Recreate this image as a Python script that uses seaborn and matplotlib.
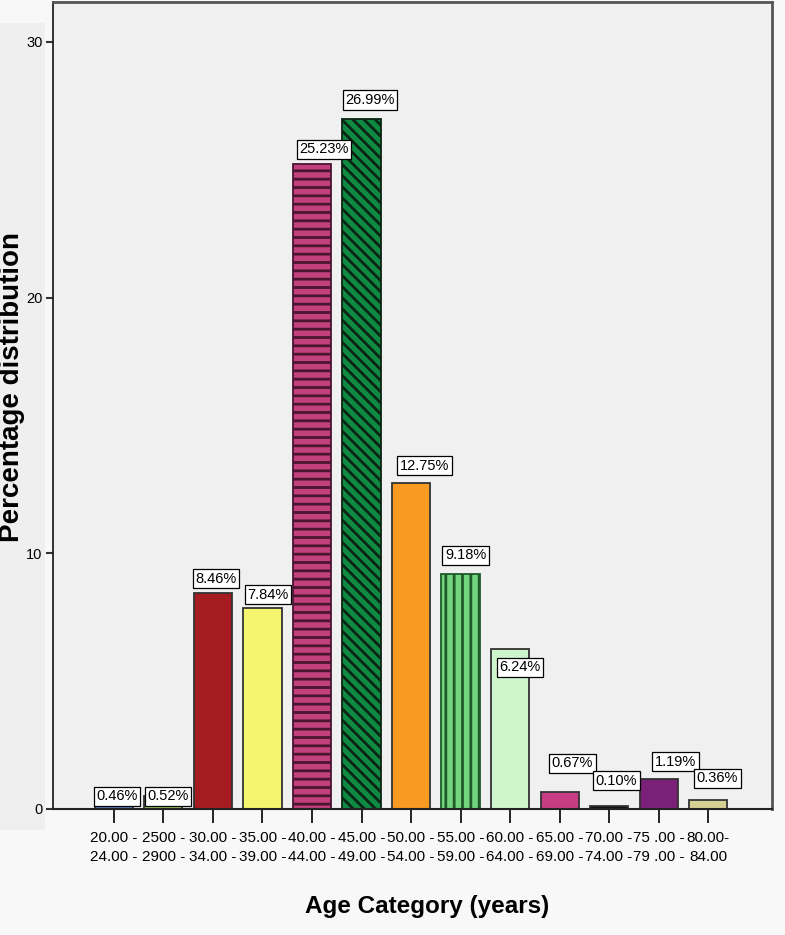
import matplotlib
matplotlib.use("Agg")
import matplotlib.pyplot as plt
import matplotlib.patches as mpatches
import seaborn as sns
import pandas as pd

AGE_START = ["20.00", "2500", "30.00", "35.00", "40.00", "45.00", "50.00",
             "55.00", "60.00", "65.00", "70.00", "75 .00", "80.00"]
AGE_END = ["24.00", "2900", "34.00", "39.00", "44.00", "49.00", "54.00",
           "59.00", "64.00", "69.00", "74.00", "79 .00", "84.00"]
PERCENT = [0.46, 0.52, 8.46, 7.84, 25.23, 26.99, 12.75, 9.18, 6.24, 0.67, 0.10, 1.19, 0.36]

BAR_COLORS = ["#5b7fc4", "#9fc45a", "#a51b1f", "#f6f570", "#c2407c", "#0f8a42",
              "#f99a22", "#73d67e", "#cdf6cc", "#c83c84", "#111111", "#7a2079", "#d6d093"]
HATCHES = ["", "", "", "", "--", "\\\\\\", "", "||", "", "", "", "", ""]
HATCH_COLORS = ["#333333", "#333333", "#333333", "#333333", "#4a1530", "#0b2414",
                "#333333", "#1f5a28", "#333333", "#333333", "#333333", "#333333", "#333333"]

# label box offsets (points) relative to bar left / bar top
LABEL_DX = [-1.5, -0.5, -1.5, 0.5, 2.0, -0.5, 3.0, 0.0, 3.5, 5.5, 1.5, 8.5, 3.0]
LABEL_DY = [-7.5, -8.5, 2.0, 2.0, 2.5, 5.5, 4.5, 5.5, -21.0, 12.5, 10.5, 4.0, 7.5]

labels = [f"{a} -\n{b} -" for a, b in zip(AGE_START[:-1], AGE_END[:-1])]
labels.append(f"{AGE_START[-1]}-\n{AGE_END[-1]}")

df = pd.DataFrame({"age": labels, "pct": PERCENT})

sns.set_style("white")
plt.rcParams["font.family"] = ["Liberation Sans", "DejaVu Sans"]
plt.rcParams["hatch.linewidth"] = 2.0
plt.rcParams["text.color"] = "black"
plt.rcParams["axes.labelcolor"] = "black"
plt.rcParams["xtick.color"] = "black"
plt.rcParams["ytick.color"] = "black"

fig = plt.figure(figsize=(7.85, 9.35), dpi=100, facecolor="#f8f8f8")
fig.patches.append(mpatches.Rectangle((0, 0.112), 0.057, 0.863, transform=fig.transFigure,
                                      facecolor="#efefef", edgecolor="none", zorder=-5))
ax = fig.add_axes([0.0675, 0.1348, 0.916, 0.8631])
ax.set_facecolor("#f0f0f0")

sns.barplot(data=df, x="age", y="pct", hue="age", palette=BAR_COLORS,
            legend=False, width=0.77, saturation=1, ax=ax)

bars = sorted(ax.patches, key=lambda p: p.get_x())
for i, bar in enumerate(bars):
    bar.set_edgecolor(HATCH_COLORS[i])
    bar.set_linewidth(1.3)
    bar.set_hatch(HATCHES[i])
    if HATCHES[i] == "":
        bar.set_edgecolor("#333333")
    ax.annotate(f"{PERCENT[i]:.2f}%", xy=(bar.get_x(), bar.get_height()),
                xytext=(LABEL_DX[i] + 2.5, LABEL_DY[i] + 3.0), textcoords="offset points",
                ha="left", va="bottom", fontsize=10.5, zorder=5,
                bbox=dict(boxstyle="square,pad=0.18", facecolor="white",
                          edgecolor="black", linewidth=0.9))

ax.set_xlim(-1.23, 12 + 1.29)
ax.set_ylim(0, 31.56)
ax.set_yticks([0, 10, 20, 30])
ax.tick_params(axis="y", length=5, width=1.5, labelsize=10.5, direction="out", left=True,
               color="#333333", pad=2.5)
ax.tick_params(axis="x", length=10, width=1.2, labelsize=11, direction="out", bottom=True, pad=6)
for t in ax.get_xticklabels():
    t.set_linespacing(1.45)

for side in ["top", "right"]:
    ax.spines[side].set_color("#555555")
    ax.spines[side].set_linewidth(2)
ax.spines["left"].set_color("#111111")
ax.spines["left"].set_linewidth(1.2)
ax.spines["bottom"].set_color("#222222")
ax.spines["bottom"].set_linewidth(1.5)

ax.set_ylabel("Percentage distribution", fontsize=20, fontweight="bold")
ax.yaxis.set_label_coords(-0.039, 0.523)
ax.set_xlabel("Age Category (years)", fontsize=17.5, fontweight="bold")
ax.xaxis.set_label_coords(0.52, -0.107)

fig.savefig("out.png", dpi=100, facecolor=fig.get_facecolor())
